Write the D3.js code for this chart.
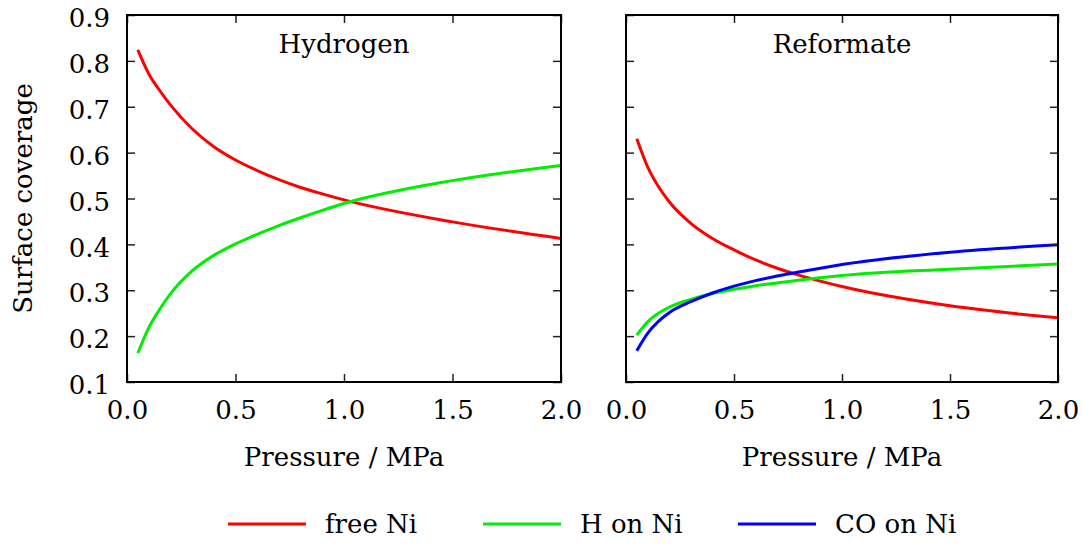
<!DOCTYPE html>
<html>
<head>
<meta charset="utf-8">
<script src="https://cdn.jsdelivr.net/npm/d3@7/dist/d3.min.js"></script>
<style>
  html, body { margin: 0; padding: 0; background: #fff; }
  svg { display: block; }
  text { font-family: "DejaVu Serif", "Liberation Serif", serif; fill: #000; }
</style>
</head>
<body>
<svg id="chart" width="1083" height="545"></svg>
<script>
// Pressure grid (MPa)
const pressure = [0.05, 0.1, 0.15, 0.2, 0.3, 0.4, 0.5, 0.6, 0.7, 0.8, 0.9, 1.0, 1.5, 2.0];

// Hydrogen feed: surface coverages
const hydrogenFreeNi = [0.824, 0.772, 0.736, 0.704, 0.652, 0.613, 0.584, 0.561, 0.541, 0.524, 0.510, 0.497, 0.449, 0.413];
const hydrogenHonNi  = [0.163, 0.218, 0.258, 0.292, 0.342, 0.376, 0.401, 0.422, 0.441, 0.458, 0.474, 0.489, 0.539, 0.572];

// Reformate feed: surface coverages
const reformateFreeNi  = [0.630, 0.569, 0.526, 0.493, 0.446, 0.413, 0.388, 0.366, 0.348, 0.333, 0.320, 0.308, 0.266, 0.240];
const reformateHonNi   = [0.202, 0.231, 0.250, 0.263, 0.280, 0.293, 0.302, 0.310, 0.316, 0.322, 0.327, 0.332, 0.346, 0.357];
const reformateCOonNi  = [0.168, 0.206, 0.232, 0.251, 0.275, 0.294, 0.309, 0.321, 0.331, 0.340, 0.348, 0.356, 0.383, 0.399];

const panelTitles = ["Hydrogen", "Reformate"];
const seriesNames = ["free Ni", "H on Ni", "CO on Ni"];
const seriesColors = ["#ff0000", "#00ee00", "#0000ff"];
const xTicks = [0.0, 0.5, 1.0, 1.5, 2.0];
const yTicks = [0.1, 0.2, 0.3, 0.4, 0.5, 0.6, 0.7, 0.8, 0.9];
const xTitle = "Pressure / MPa";
const yTitle = "Surface coverage";

const panels = [
  { title: panelTitles[0], left: 127, right: 561, series: [hydrogenFreeNi, hydrogenHonNi] },
  { title: panelTitles[1], left: 626, right: 1058, series: [reformateFreeNi, reformateHonNi, reformateCOonNi] }
];

const plotTop = 15, plotBottom = 382;
const fontSize = 26;
const svg = d3.select("#chart");

const y = d3.scaleLinear().domain([0.1, 0.9]).range([plotBottom, plotTop]);
const fmt = d3.format(".1f");

panels.forEach((p, pi) => {
  const x = d3.scaleLinear().domain([0, 2]).range([p.left, p.right]);
  const g = svg.append("g");

  // curves
  const line = d3.line()
    .x((d, i) => x(pressure[i]))
    .y(d => y(d))
    .curve(d3.curveMonotoneX);
  p.series.forEach((vals, si) => {
    g.append("path")
      .datum(vals)
      .attr("d", line)
      .attr("fill", "none")
      .attr("stroke", seriesColors[si])
      .attr("stroke-width", 3)
      .attr("stroke-linejoin", "round");
  });

  // axes with inward ticks on all four sides
  const styleAxis = sel => {
    sel.select(".domain").remove();
    sel.selectAll(".tick line").attr("stroke", "#222").attr("stroke-width", 1.5);
    sel.selectAll(".tick text")
      .style("font-family", "'DejaVu Serif', 'Liberation Serif', serif")
      .style("font-size", fontSize + "px")
      .attr("fill", "#000");
  };

  const bottomAxis = d3.axisBottom(x).tickValues(xTicks).tickFormat(fmt).tickSize(-8).tickPadding(19);
  g.append("g").attr("transform", `translate(0,${plotBottom})`).call(bottomAxis).call(styleAxis);

  const topAxis = d3.axisTop(x).tickValues(xTicks).tickFormat("").tickSize(-8);
  g.append("g").attr("transform", `translate(0,${plotTop})`).call(topAxis).call(styleAxis);

  const leftAxis = d3.axisLeft(y).tickValues(yTicks).tickSize(-8).tickPadding(17)
    .tickFormat(pi === 0 ? fmt : "");
  g.append("g").attr("transform", `translate(${p.left},0)`).call(leftAxis).call(styleAxis)
    .selectAll(".tick text").attr("dy", "0.45em");

  const rightAxis = d3.axisRight(y).tickValues(yTicks).tickSize(-8).tickFormat("");
  g.append("g").attr("transform", `translate(${p.right},0)`).call(rightAxis).call(styleAxis);

  // frame
  g.append("rect")
    .attr("x", p.left).attr("y", plotTop)
    .attr("width", p.right - p.left).attr("height", plotBottom - plotTop)
    .attr("fill", "none").attr("stroke", "#000").attr("stroke-width", 2);

  // panel title
  g.append("text")
    .attr("x", (p.left + p.right) / 2).attr("y", 53)
    .attr("text-anchor", "middle")
    .style("font-size", fontSize + "px")
    .text(p.title);

  // x axis title
  g.append("text")
    .attr("x", (p.left + p.right) / 2).attr("y", 466)
    .attr("text-anchor", "middle")
    .style("font-size", fontSize + "px")
    .text(xTitle);
});

// y axis title
svg.append("text")
  .attr("transform", `translate(32,${(plotTop + plotBottom) / 2}) rotate(-90)`)
  .attr("text-anchor", "middle")
  .style("font-size", fontSize + "px")
  .text(yTitle);

// legend
const legend = svg.append("g");
seriesNames.forEach((name, i) => {
  const x0 = 228 + i * 255;
  legend.append("line")
    .attr("x1", x0).attr("x2", x0 + 78)
    .attr("y1", 524).attr("y2", 524)
    .attr("stroke", seriesColors[i]).attr("stroke-width", 3);
  legend.append("text")
    .attr("x", x0 + 97).attr("y", 533)
    .style("font-size", fontSize + "px")
    .text(name);
});
</script>
</body>
</html>
